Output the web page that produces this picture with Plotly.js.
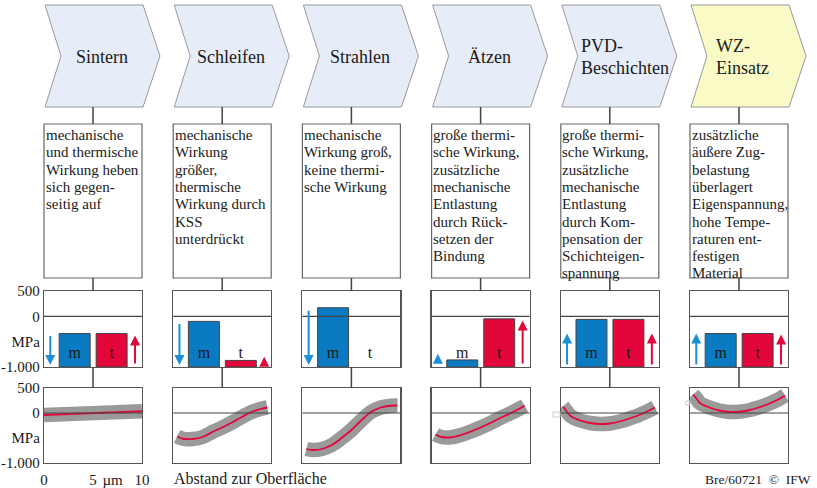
<!DOCTYPE html>
<html><head><meta charset="utf-8">
<script src="https://cdn.plot.ly/plotly-3.0.1.min.js"></script>
<style>html,body{margin:0;padding:0;background:#fff}</style>
</head><body><div id="chart" style="width:817px;height:488px"></div>
<script>
// ---------- data ----------
const steps = [["Sintern"],["Schleifen"],["Strahlen"],["Ätzen"],["PVD-","Beschichten"],["WZ-","Einsatz"]];
const effects = [
  ["mechanische","und thermische","Wirkung heben","sich gegen-","seitig auf"],
  ["mechanische","Wirkung","größer,","thermische","Wirkung durch","KSS","unterdrückt"],
  ["mechanische","Wirkung groß,","keine thermi-","sche Wirkung"],
  ["große thermi-","sche Wirkung,","zusätzliche","mechanische","Entlastung","durch Rück-","setzen der","Bindung"],
  ["große thermi-","sche Wirkung,","zusätzliche","mechanische","Entlastung","durch Kom-","pensation der","Schichteigen-","spannung"],
  ["zusätzliche","äußere Zug-","belastung","überlagert","Eigenspannung,","hohe Tempe-","raturen ent-","festigen","Material"]
];
const barLabels = ["m","t"];
const mechStress = [-340, -100, 170, -860, -60, -340];   // MPa (bar top)
const thermStress = [-340, -870, null, -50, -60, -340];
const barBase = -1000;
const mechArrow = [[-360,-960],[-120,-960],[140,-960],[-920,-740],[-980,-340],[-980,-340]]; // [tail, tip]
const thermArrow = [[-960,-380],[-980,-800],null,[-960,-80],[-980,-340],[-980,-360]];

const depthSintern = [0, 2, 4, 6, 8, 10];
const stressSintern = [-40, -25, -10, 5, 20, 35];
const depthSchleifen = [0.4, 1, 2, 3, 4, 5, 6, 7, 8, 9, 9.6];
const stressSchleifen = [-470, -515, -520, -480, -380, -290, -190, -80, 20, 85, 110];
const depthStrahlen = [0.4, 1, 2, 3, 4, 5, 6, 7, 8, 9, 9.7];
const stressStrahlen = [-720, -740, -720, -640, -500, -340, -150, 20, 110, 145, 150];
const depthAetzen = [0.4, 1, 2, 3, 4, 5, 6, 7, 8, 9, 9.5];
const stressAetzen = [-430, -480, -485, -440, -370, -290, -200, -100, -10, 90, 145];
const depthPVD = [0.2, 0.5, 1, 2, 3, 4, 5, 6, 7, 8, 9, 9.6];
const stressPVD = [130, 60, -60, -150, -200, -220, -210, -170, -110, -40, 50, 110];
const depthWZ = [0.3, 0.7, 1, 2, 3, 4, 5, 6, 7, 8, 9, 9.7];
const stressWZ = [370, 280, 200, 110, 50, 20, 25, 55, 110, 180, 270, 350];

const depths = [depthSintern, depthSchleifen, depthStrahlen, depthAetzen, depthPVD, depthWZ];
const profiles = [stressSintern, stressSchleifen, stressStrahlen, stressAetzen, stressPVD, stressWZ];

const yTickVals = [500, 0, -500, -1000];
const yTickText = ["500", "0", "MPa", "-1.000"];
const xTickVals = [0, 5, 7, 10];
const xTickText = ["0", "5", "µm", "10"];

// ---------- layout helpers ----------
const W = 817, H = 488;
const px = x => x / W, py = y => 1 - y / H;
const colLeft = [44, 173.2, 302.4, 431.6, 560.8, 690];
const boxW = 98;
const FONT = "Liberation Serif, Times New Roman, serif";
const BLUE = "#0a7bc2", RED = "#e3063b", BLUE_ARROW = "#1d8fd6";
const mX = 3.13, tX = 6.9, barWidth = 3.16, arrowLX = 0.64, arrowRX = 9.29;

const traces = [], shapes = [], annotations = [];
const layout = {
  width: W, height: H, margin: {l:0, r:0, t:0, b:0},
  paper_bgcolor: "#fff", plot_bgcolor: "#fff",
  showlegend: false, hovermode: false,
  font: {family: FONT, size: 15, color: "#1a1a1a"}
};
const axId = n => (n === 1 ? "" : String(n));

for (let i = 0; i < 6; i++) {
  const L = colLeft[i];
  const bi = 2*i + 1, ci = 2*i + 2;
  const bx = "x" + axId(bi), by = "y" + axId(bi), cx = "x" + axId(ci), cy = "y" + axId(ci);
  const dom = [px(L), px(L + boxW)];
  const axBase = {range: [0, 10], showline: true, mirror: true, linecolor: "#555", linewidth: 1.2,
    showgrid: false, zeroline: false, showticklabels: false, ticks: "", fixedrange: true};
  const ayBase = {range: [-1000, 500], showline: true, mirror: true, linecolor: "#555", linewidth: 1.2,
    showgrid: false, zeroline: false, ticks: "", fixedrange: true,
    showticklabels: i === 0, tickvals: yTickVals, ticktext: yTickText,
    tickfont: {family: FONT, size: 15, color: "#1a1a1a"}};
  layout["xaxis" + axId(bi)] = Object.assign({}, axBase, {domain: dom, anchor: by});
  layout["yaxis" + axId(bi)] = Object.assign({}, ayBase, {domain: [py(367), py(291)], anchor: bx});
  const cxAx = Object.assign({}, axBase, {domain: dom, anchor: cy});
  if (i === 0) Object.assign(cxAx, {showticklabels: true, tickvals: xTickVals, ticktext: xTickText,
    ticks: "outside", ticklen: 3, tickcolor: "rgba(0,0,0,0)", tickfont: {family: FONT, size: 15, color: "#1a1a1a"}});
  layout["xaxis" + axId(ci)] = cxAx;
  layout["yaxis" + axId(ci)] = Object.assign({}, ayBase, {domain: [py(463), py(388)], anchor: cx});

  // bars
  const vals = [mechStress[i], thermStress[i]];
  traces.push({type: "bar", xaxis: bx, yaxis: by, x: [mX, tX], y: vals.map(v => v === null ? null : v - barBase), base: barBase,
    width: barWidth, marker: {color: [BLUE, RED], line: {color: "#444", width: 1}}});
  traces.push({type: "scatter", mode: "text", xaxis: bx, yaxis: by, x: [mX, tX], y: [-735, -735],
    text: barLabels, textfont: {family: FONT, size: 16, color: "#1a1a1a"}});
  // arrows
  [[mechArrow[i], arrowLX, BLUE_ARROW], [thermArrow[i], arrowRX, RED]].forEach(([a, xa, col]) => {
    if (!a) return;
    annotations.push({xref: bx, yref: by, axref: bx, ayref: by, x: xa, y: a[1], ax: xa, ay: a[0],
      text: "", showarrow: true, arrowhead: 2, arrowsize: 1, arrowwidth: 2, arrowcolor: col, standoff: 0});
  });
  // zero lines above data
  shapes.push({type: "line", xref: bx + " domain", yref: by, x0: 0, x1: 1, y0: 0, y1: 0, line: {color: "#444", width: 1.2}, layer: "above"});
  shapes.push({type: "line", xref: cx + " domain", yref: cy, x0: 0, x1: 1, y0: 0, y1: 0, line: {color: "#444", width: 1.2}, layer: "above"});

  // residual stress profile: scatter band + mean
  traces.push({type: "scatter", mode: "lines", xaxis: cx, yaxis: cy, x: depths[i], y: profiles[i],
    line: {color: "#9a9a9a", width: 14.5, shape: "spline"}});
  traces.push({type: "scatter", mode: "lines", xaxis: cx, yaxis: cy, x: depths[i], y: profiles[i],
    line: {color: RED, width: 1.8, shape: "spline"}});

  // chevron
  const chev = `M ${px(L+1)},${py(5)} L ${px(L+99)},${py(5)} L ${px(L+116)},${py(56)} L ${px(L+99)},${py(107)} L ${px(L+1)},${py(107)} L ${px(L+17)},${py(56)} Z`;
  shapes.push({type: "path", xref: "paper", yref: "paper", path: chev,
    fillcolor: i === 5 ? "#fafac6" : "#e7edf8", line: {color: "#9a9a9a", width: 1}, layer: "below"});
  const st = steps[i];
  if (st.length === 1) {
    annotations.push({xref: "paper", yref: "paper", x: px(L+58), y: py(57), xanchor: "center", yanchor: "middle",
      text: st[0], showarrow: false, font: {family: FONT, size: 18, color: "#1a1a1a"}});
  } else {
    const off = i === 4 ? 18 : 24;
    st.forEach((s, j) => annotations.push({xref: "paper", yref: "paper", x: px(L+off), y: py(46 + 22*j),
      xanchor: "left", yanchor: "middle", text: s, showarrow: false, font: {family: FONT, size: 18, color: "#1a1a1a"}}));
  }
  // text box
  shapes.push({type: "rect", xref: "paper", yref: "paper", x0: px(L), x1: px(L+boxW), y0: py(278), y1: py(124),
    fillcolor: "#fff", line: {color: "#666", width: 1.2}, layer: "below"});
  effects[i].forEach((s, j) => annotations.push({xref: "paper", yref: "paper", x: px(L-0.5), y: py(135 + 17.3*j),
    xanchor: "left", yanchor: "middle", text: s, showarrow: false, font: {family: FONT, size: 15, color: "#1a1a1a"}}));
  // connectors
  [[107,124],[278,291],[367,388]].forEach(([a,b]) => shapes.push({type: "line", xref: "paper", yref: "paper",
    x0: px(L+49), x1: px(L+49), y0: py(a), y1: py(b), line: {color: "#444", width: 1.5}}));
}
// small artefact boxes
shapes.push({type: "rect", xref: "paper", yref: "paper", x0: px(553), x1: px(560), y0: py(417), y1: py(412), line: {color: "#ccc", width: 1}});
shapes.push({type: "rect", xref: "paper", yref: "paper", x0: px(686), x1: px(690), y0: py(405), y1: py(401), line: {color: "#ccc", width: 1}});

annotations.push({xref: "paper", yref: "paper", x: px(172), y: py(478), xanchor: "left", yanchor: "middle",
  text: "Abstand zur Oberfläche", showarrow: false, font: {family: FONT, size: 16, color: "#1a1a1a"}});
annotations.push({xref: "paper", yref: "paper", x: px(813), y: py(479), xanchor: "right", yanchor: "middle",
  text: "Bre/60721  ©  IFW", showarrow: false, font: {family: FONT, size: 13.5, color: "#1a1a1a"}});

layout.shapes = shapes;
layout.annotations = annotations;
Plotly.newPlot("chart", traces, layout, {staticPlot: true, displayModeBar: false});
</script></body></html>
